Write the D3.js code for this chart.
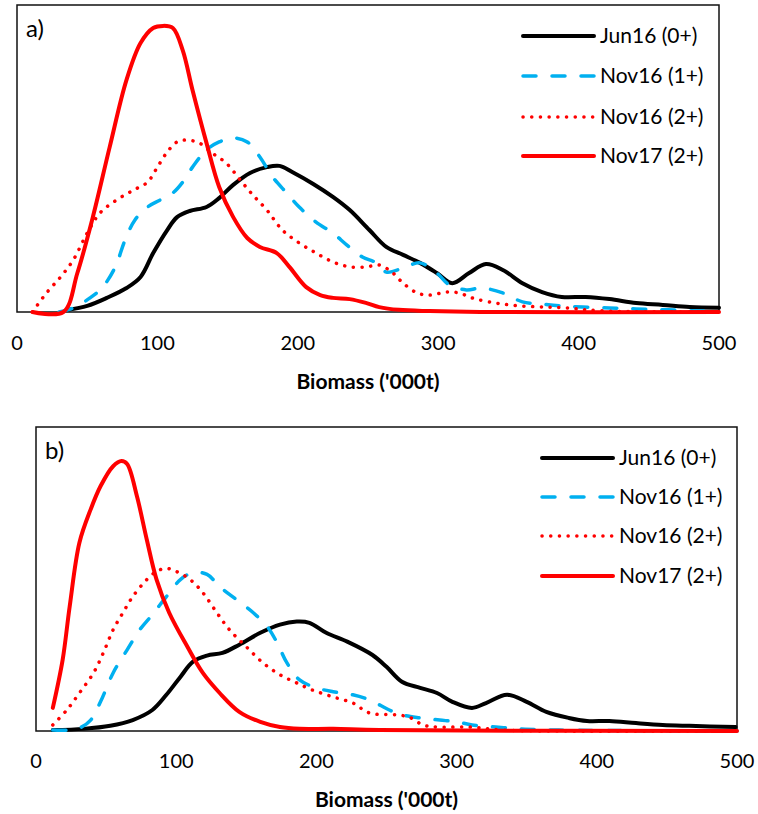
<!DOCTYPE html>
<html>
<head>
<meta charset="utf-8">
<script src="https://cdn.jsdelivr.net/npm/d3@7"></script>
<style>
  html, body { margin: 0; padding: 0; background: #fff; }
  svg { display: block; font-family: Lato, "Open Sans", sans-serif; }
</style>
</head>
<body>
<div id="chart"></div>
<script>
// Biomass distributions, relative height (0-100 = plot height)
const seriesNames = ["Jun16 (0+)", "Nov16 (1+)", "Nov16 (2+)", "Nov17 (2+)"];
const xTicks = [0, 100, 200, 300, 400, 500];

// panel a)
const aJun16_x = [36, 50, 64, 78, 88, 97, 107, 114, 123, 135, 144, 154, 166, 178, 187, 196, 211, 225, 237, 251, 263, 275, 287, 299, 310, 322, 334, 346, 360, 374, 388, 405, 422, 441, 460, 479, 500];
const aJun16_y = [0.7, 2, 4.6, 7.8, 11.4, 19.2, 26.7, 30.9, 32.9, 34.2, 37.1, 41.4, 45.3, 47.2, 47.6, 45.6, 41.7, 37.5, 33.2, 26.7, 21.2, 18.6, 16, 12.7, 9.4, 12.7, 15.6, 13.7, 9.4, 6.5, 4.9, 4.9, 4.2, 2.9, 2.3, 1.6, 1.4];
const aNov16a_x = [30, 40, 52, 61, 70, 77, 84, 93, 102, 111, 118, 125, 135, 144, 154, 164, 173, 182, 192, 201, 213, 225, 235, 246, 256, 263, 275, 287, 299, 308, 320, 331, 346, 360, 374, 388, 403, 422, 441, 464, 488, 500];
const aNov16a_y = [0, 1.3, 4.6, 8.1, 14.7, 23.5, 30, 34.2, 36.5, 38.8, 42.3, 47.2, 52.8, 55.4, 56.7, 55.4, 50.5, 44, 38.8, 34.2, 29.3, 25.7, 21.8, 17.9, 16, 13, 14.3, 16, 12.7, 8.8, 7.2, 7.8, 6.2, 3.3, 2.6, 2, 1.6, 1.3, 1, 0.7, 0.3, 0.2];
const aNov16b_x = [11, 21, 31, 40, 50, 59, 71, 83, 93, 100, 107, 114, 121, 130, 139, 149, 159, 168, 178, 189, 201, 213, 225, 237, 249, 258, 267, 275, 285, 294, 306, 315, 324, 341, 358, 377, 393, 405, 429, 500];
const aNov16b_y = [0, 6.2, 11.4, 16.9, 25.7, 32.2, 36.5, 39.7, 42.3, 47.2, 52.1, 55.4, 56, 55, 51.8, 48.5, 43, 38.1, 33.2, 26.7, 22.5, 19.2, 16.3, 14.7, 14.7, 15.3, 13, 9.4, 6.2, 5.5, 6.5, 6.2, 4.6, 2.9, 2, 1.6, 1.3, 0.7, 0.2, 0];
const aNov17_x = [11, 33, 43, 54, 66, 78, 88, 97, 104, 111, 118, 125, 135, 144, 154, 164, 173, 185, 194, 206, 216, 225, 237, 249, 258, 272, 294, 330, 500];
const aNov17_y = [0, 0, 12.7, 30.9, 53.7, 75.6, 87.6, 92.5, 93.2, 92.5, 85.3, 72.3, 55, 40.7, 30.9, 24.1, 21.2, 19.2, 14.7, 8.1, 5.5, 4.6, 4.2, 2.9, 1.6, 0.7, 0.3, 0, 0];

// panel b)
const bJun16_x = [12, 34, 53, 69, 83, 93, 103, 112, 122, 133, 145, 160, 174, 186, 195, 207, 222, 240, 250, 261, 274, 286, 297, 311, 321, 336, 350, 364, 380, 393, 409, 428, 447, 466, 499];
const bJun16_y = [0.3, 0.7, 1.7, 3.6, 6.9, 11.9, 17.8, 22.8, 24.8, 25.7, 28.4, 32.3, 35, 36, 35.6, 32.3, 29.4, 25, 21.1, 16.2, 14.2, 12.5, 9.6, 7.6, 9.2, 11.9, 9.6, 6.3, 4.3, 3.3, 3.3, 2.6, 2, 1.7, 1.3];
const bNov16a_x = [12, 22, 31, 39, 46, 55, 65, 74, 83, 93, 103, 112, 122, 131, 143, 155, 165, 172, 179, 188, 200, 212, 226, 238, 252, 261, 274, 288, 300, 311, 328, 345, 373, 500];
const bNov16a_y = [0.3, 0.3, 1, 3.6, 9.6, 19.1, 26.7, 33.3, 38.3, 44.2, 49.8, 52.1, 51.5, 47.5, 43.2, 38.9, 34.3, 29, 22.4, 16.8, 14.2, 12.9, 11.9, 10.2, 6.9, 5.3, 4.3, 3.6, 3, 2, 1.3, 0.7, 0.3, 0];
const bNov16b_x = [12, 22, 31, 41, 48, 55, 62, 69, 79, 86, 93, 100, 110, 119, 129, 138, 150, 162, 174, 186, 197, 212, 226, 238, 257, 266, 276, 286, 309, 333, 366, 500];
const bNov16b_y = [2, 6.9, 12.5, 19.1, 25.7, 33.3, 38.9, 44.2, 49.8, 52.5, 53.5, 52.5, 49.8, 45.5, 38.9, 33.3, 27.7, 22.4, 18.5, 15.8, 13.5, 11.2, 9.2, 5.9, 5.3, 4.6, 2, 1.3, 1.3, 0.3, 0, 0];
const bNov17_x = [12, 19, 24, 31, 39, 46, 55, 61, 65, 72, 79, 86, 95, 108, 119, 131, 145, 160, 174, 188, 212, 245, 500];
const bNov17_y = [7.6, 23.4, 40.9, 62, 72.9, 80.5, 87.1, 88.8, 87.8, 77.2, 63, 49.8, 38.9, 27.7, 19.1, 12.5, 6.3, 3, 1.3, 0.7, 0.7, 0.3, 0];

const panels = [
  {label: "a)", left: 17, right: 719, top: 5, bottom: 312, tickY: 350, titleY: 389,
   legendX: 523, legendY: [36, 76, 117, 156],
   series: [[aJun16_x, aJun16_y], [aNov16a_x, aNov16a_y], [aNov16b_x, aNov16b_y], [aNov17_x, aNov17_y]]},
  {label: "b)", left: 36, right: 737, top: 427, bottom: 731, tickY: 768, titleY: 807,
   legendX: 542, legendY: [458, 497, 536, 576],
   series: [[bJun16_x, bJun16_y], [bNov16a_x, bNov16a_y], [bNov16b_x, bNov16b_y], [bNov17_x, bNov17_y]]}
];

const styles = [
  {color: "#000000", width: 4, dash: null},
  {color: "#00B0F0", width: 3.5, dash: "13,16"},
  {color: "#FF0000", width: 3.5, dash: "0.1,8.6"},
  {color: "#FF0000", width: 4, dash: null}
];

const svg = d3.select("#chart").append("svg")
  .attr("width", 758)
  .attr("height", 814);

panels.forEach(function (p) {
  const x = d3.scaleLinear().domain([0, 500]).range([p.left, p.right]);
  const y = d3.scaleLinear().domain([0, 100]).range([p.bottom, p.top]);
  const g = svg.append("g");

  // tick labels
  g.selectAll("text.tick").data(xTicks).join("text")
    .attr("class", "tick")
    .attr("x", d => x(d))
    .attr("y", p.tickY)
    .attr("text-anchor", "middle")
    .attr("font-size", "20px")
    .attr("fill", "#000")
    .text(d => d);

  g.append("text")
    .attr("x", (p.left + p.right) / 2)
    .attr("y", p.titleY)
    .attr("text-anchor", "middle")
    .attr("font-size", "21px")
    .attr("font-weight", "bold")
    .text("Biomass ('000t)");

  // frame
  g.append("rect")
    .attr("x", p.left)
    .attr("y", p.top)
    .attr("width", p.right - p.left)
    .attr("height", p.bottom - p.top)
    .attr("fill", "none")
    .attr("stroke", "#111")
    .attr("stroke-width", 1.5);

  g.append("text")
    .attr("x", p.left + 9)
    .attr("y", p.top + 32)
    .attr("font-size", "24px")
    .text(p.label);

  const line = d3.line()
    .x(d => x(d[0]))
    .y(d => y(d[1]))
    .curve(d3.curveCatmullRom.alpha(0.5));

  p.series.forEach(function (s, i) {
    const pts = d3.zip(s[0], s[1]);
    const st = styles[i];
    g.append("path")
      .datum(pts)
      .attr("d", line)
      .attr("fill", "none")
      .attr("stroke", st.color)
      .attr("stroke-width", st.width)
      .attr("stroke-linecap", "round")
      .attr("stroke-linejoin", "round")
      .attr("stroke-dasharray", st.dash);
  });

  // legend
  seriesNames.forEach(function (name, i) {
    const st = styles[i];
    const ly = p.legendY[i];
    g.append("line")
      .attr("x1", p.legendX).attr("x2", p.legendX + 71)
      .attr("y1", ly).attr("y2", ly)
      .attr("stroke", st.color)
      .attr("stroke-width", st.width)
      .attr("stroke-linecap", "round")
      .attr("stroke-dasharray", st.dash);
    g.append("text")
      .attr("x", p.legendX + 77)
      .attr("y", ly + 7)
      .attr("font-size", "21px")
      .text(name);
  });
});
</script>
</body>
</html>
